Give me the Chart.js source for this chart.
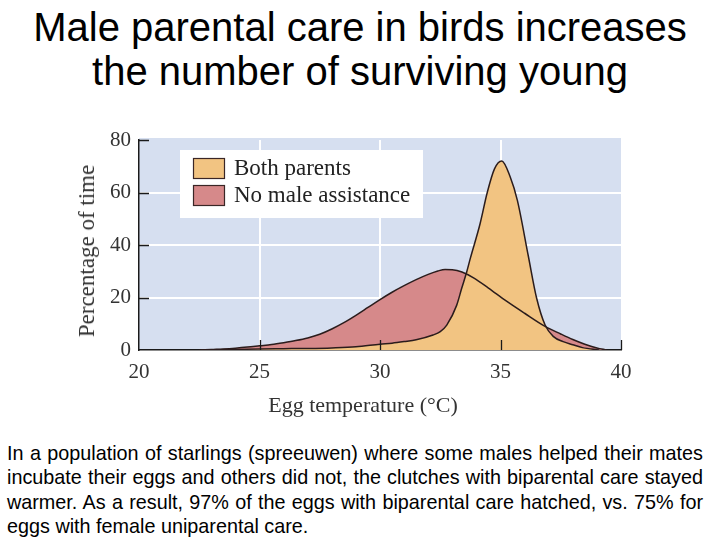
<!DOCTYPE html>
<html>
<head>
<meta charset="utf-8">
<script src="https://cdn.jsdelivr.net/npm/chart.js@4"></script>
<style>
  body { margin: 0; width: 720px; height: 540px; background: #fff; position: relative; overflow: hidden; }
  #title { position: absolute; left: 0; top: 5px; width: 720px; text-align: center;
           font: 40px/44px Arial, "Liberation Sans", sans-serif; color: #000; }
  #chartBox { position: absolute; left: 0; top: 110px; width: 720px; height: 330px; }
  .axisTitle { position: absolute; white-space: nowrap; color: #333;
               font: 22px "Liberation Serif", "Times New Roman", serif; transform: translate(-50%, -50%); }
  #yTitle { left: 87px; top: 251px; font-size: 23px; transform: translate(-50%, -50%) rotate(-90deg); }
  #xTitle { left: 363px; top: 405px; }
  #note { position: absolute; left: 7px; top: 441px; width: 696px; margin: 0; text-align: justify;
          font: 19.8px/24.3px Arial, "Liberation Sans", sans-serif; color: #000; }
</style>
</head>
<body>
<div id="title">Male parental care in birds increases<br>the number of surviving young</div>
<div id="chartBox"><canvas id="eggChart"></canvas></div>
<div class="axisTitle" id="yTitle">Percentage of time</div>
<div class="axisTitle" id="xTitle">Egg temperature (°C)</div>
<p id="note">In a population of starlings (spreeuwen) where some males helped their mates incubate their eggs and others did not, the clutches with biparental care stayed warmer. As a result, 97% of the eggs with biparental care hatched, vs. 75% for eggs with female uniparental care.</p>

<script>
// values
const bothTemp  = [22.5, 24, 25, 26, 27, 28, 29, 30, 30.5, 31, 31.5, 32.2, 32.5, 32.77, 33.18, 33.39, 33.6, 33.75, 34.15, 34.45, 34.75, 35.05, 35.4, 35.7, 36.15, 36.5, 36.85, 37.2, 37.6, 38, 38.4, 39.1];
const bothValue = [0, 0.2, 0.4, 0.5, 0.6, 0.8, 1.2, 2.2, 2.6, 3.2, 3.9, 5.7, 7.0, 9.5, 17, 23.5, 29.8, 35, 48, 60, 69, 72, 66, 57, 36, 19.7, 9.5, 5.1, 3.2, 2.0, 0.9, 0];

const noMaleTemp  = [22.6, 23, 23.5, 24, 24.5, 25, 25.5, 26, 26.5, 27, 27.5, 28, 28.5, 29, 29.5, 30, 30.5, 31, 31.5, 32, 32.4, 32.7, 33, 33.4, 33.9, 34.5, 35.25, 36, 36.85, 37.5, 38, 38.5, 39, 39.4];
const noMaleValue = [0, 0.2, 0.4, 0.7, 1.1, 1.6, 2.1, 2.8, 3.6, 4.6, 6.0, 8.0, 10.4, 13.2, 16.2, 19.2, 22.0, 24.5, 26.8, 28.8, 30.1, 30.7, 30.6, 29.7, 27.4, 23.6, 18.6, 14.0, 9.0, 6.1, 4.0, 2.2, 0.8, 0];

const seriesNames = ['Both parents', 'No male assistance'];
const xTicks = [20, 25, 30, 35, 40];
const yTicks = [0, 20, 40, 60, 80];

const serif = '"Liberation Serif", "Times New Roman", serif';

const toPoints = (xs, ys) => xs.map((x, i) => ({ x: x, y: ys[i] }));

// blue plot background
const plotBackground = {
  id: 'plotBackground',
  beforeDraw(chart) {
    const { ctx, chartArea: a } = chart;
    ctx.save();
    ctx.fillStyle = '#d6dff0';
    ctx.fillRect(a.left, a.top - 2, a.right - a.left, a.bottom - a.top + 2);
    ctx.restore();
  }
};

// short black ticks pointing into the plot + boxed legend
const innerTicksAndLegend = {
  id: 'innerTicksAndLegend',
  afterDatasetsDraw(chart) {
    const { ctx, chartArea: a, scales } = chart;
    ctx.save();
    ctx.strokeStyle = '#1a1a1a';
    ctx.lineWidth = 1.3;
    ctx.beginPath();
    xTicks.slice(1).forEach(v => {
      const px = Math.round(scales.x.getPixelForValue(v)) + 0.5;
      ctx.moveTo(px, a.bottom);
      ctx.lineTo(px, a.bottom - 10);
    });
    yTicks.slice(1).forEach(v => {
      const py = Math.round(scales.y.getPixelForValue(v)) + 0.5;
      ctx.moveTo(a.left, py);
      ctx.lineTo(a.left + 10, py);
    });
    ctx.stroke();

    const x0 = a.left + 41, y0 = a.top + 10;
    ctx.fillStyle = '#fff';
    ctx.fillRect(x0, y0, 243, 68);
    ctx.font = '23px ' + serif;
    ctx.textBaseline = 'middle';
    chart.data.datasets.forEach((ds, i) => {
      const y = y0 + 8 + i * 27;
      ctx.fillStyle = ds.backgroundColor;
      ctx.fillRect(x0 + 13, y, 32, 21);
      ctx.strokeStyle = '#3a2626';
      ctx.lineWidth = 1.2;
      ctx.strokeRect(x0 + 13.5, y + 0.5, 31, 20);
      ctx.fillStyle = '#222';
      ctx.fillText(ds.label, x0 + 54, y + 11);
    });
    ctx.restore();
  }
};

const ctx = document.getElementById('eggChart').getContext('2d');

const eggChart = new Chart(ctx, {
  type: 'line',
  data: {
    datasets: [
      {
        label: seriesNames[0],
        data: toPoints(bothTemp, bothValue),
        fill: 'origin',
        backgroundColor: '#f2c482',
        borderColor: '#2b1c1c',
        borderWidth: 1.5,
        pointRadius: 0,
        cubicInterpolationMode: 'monotone'
      },
      {
        label: seriesNames[1],
        data: toPoints(noMaleTemp, noMaleValue),
        fill: 'origin',
        backgroundColor: '#d6898a',
        borderColor: '#2b1c1c',
        borderWidth: 1.5,
        pointRadius: 0,
        cubicInterpolationMode: 'monotone'
      }
    ]
  },
  options: {
    responsive: true,
    maintainAspectRatio: false,
    animation: false,
    layout: { padding: { top: 30, right: 99, left: 0, bottom: 0 } },
    plugins: {
      legend: { display: false },
      tooltip: { enabled: false },
      filler: { drawTime: 'beforeDatasetsDraw' }
    },
    scales: {
      x: {
        type: 'linear',
        min: 20,
        max: 40,
        afterBuildTicks: scale => { scale.ticks = xTicks.map(v => ({ value: v })); },
        afterFit: scale => { scale.height = 90; },
        grid: {
          color: c => (c.tick && (c.tick.value === 20 || c.tick.value === 40)) ? 'rgba(0,0,0,0)' : '#ffffff',
          lineWidth: 2,
          drawTicks: false
        },
        border: { color: '#1a1a1a', width: 1.5 },
        ticks: { padding: 10, color: '#333', font: { family: serif, size: 21 } }
      },
      y: {
        min: 0,
        max: 80,
        afterBuildTicks: scale => { scale.ticks = yTicks.map(v => ({ value: v })); },
        afterFit: scale => { scale.width = 139; },
        grid: {
          color: c => (c.tick && (c.tick.value === 0 || c.tick.value === 80)) ? 'rgba(0,0,0,0)' : '#ffffff',
          lineWidth: 2,
          drawTicks: false
        },
        border: { color: '#1a1a1a', width: 1.5 },
        ticks: { padding: 8, color: '#333', font: { family: serif, size: 21 } }
      }
    }
  },
  plugins: [plotBackground, innerTicksAndLegend]
});
</script>
</body>
</html>
